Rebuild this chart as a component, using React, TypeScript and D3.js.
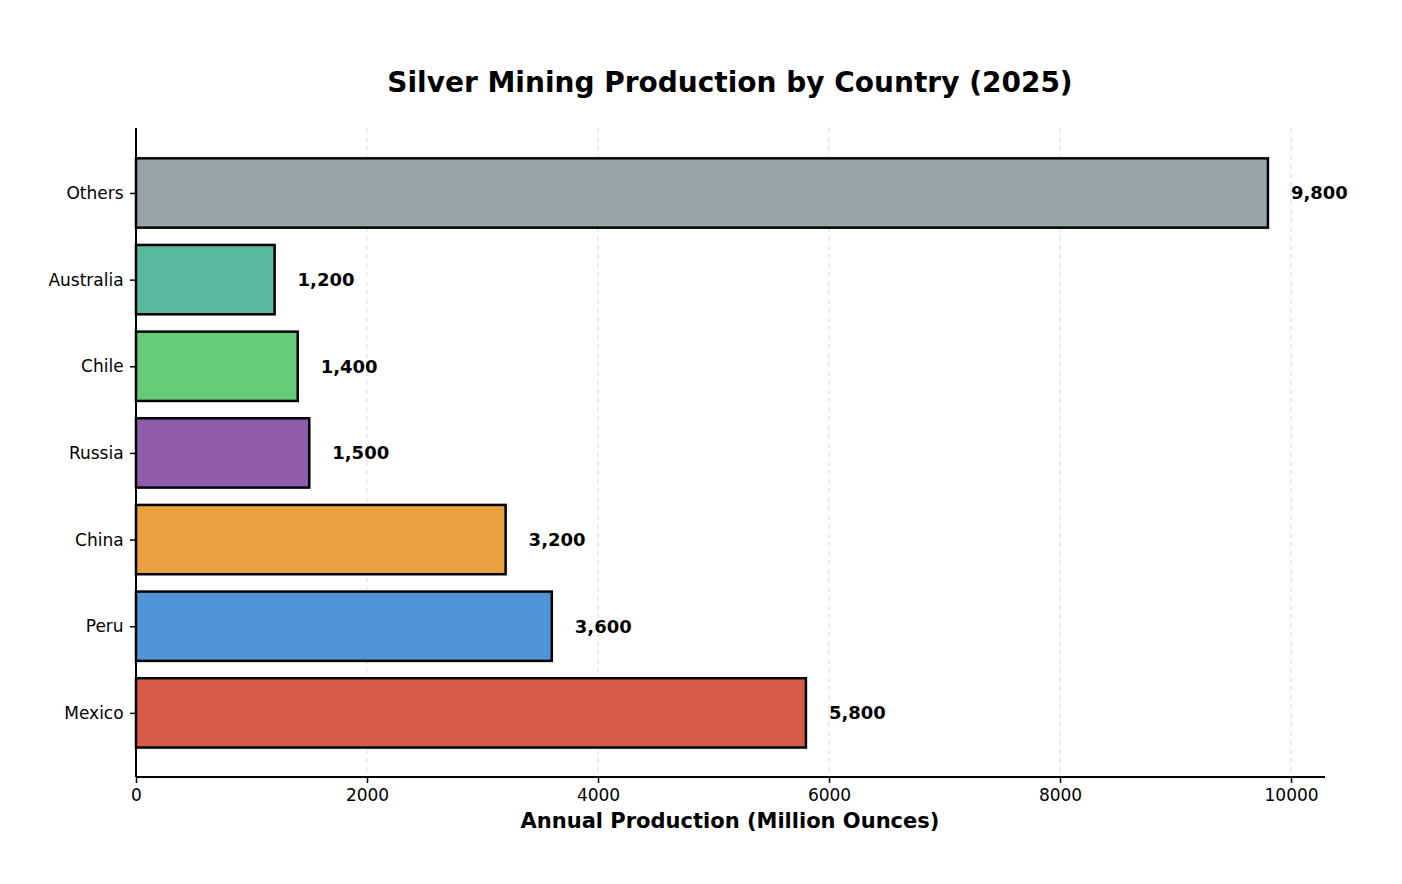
import { useEffect, useRef } from "react";
import * as d3 from "d3";

const countries = ["Mexico", "Peru", "China", "Russia", "Chile", "Australia", "Others"];
const production = [5800, 3600, 3200, 1500, 1400, 1200, 9800];
const colors = ["#d55a47", "#5096d6", "#e8a13e", "#8f5bab", "#65cb79", "#5ab89e", "#98a4a5"];
const xTicks = [0, 2000, 4000, 6000, 8000, 10000];

export default function App() {
  const svgRef = useRef<SVGSVGElement>(null);

  useEffect(() => {
    if (!svgRef.current) return;
    const svg = d3.select(svgRef.current);
    svg.selectAll("*").remove();
    const font = "DejaVu Sans, sans-serif";

    const left = 136, right = 1325, top = 128, bottom = 777;
    const x = d3.scaleLinear().domain([0, 10294]).range([left, right]);
    const y = d3.scaleLinear().domain([-0.74, 6.75]).range([bottom, top]);
    const step = y(0) - y(1);
    const bh = step * 0.8;

    // Grid
    svg.append("g")
      .selectAll("line")
      .data(xTicks.slice(1))
      .join("line")
      .attr("x1", (d) => x(d)).attr("x2", (d) => x(d))
      .attr("y1", top).attr("y2", bottom)
      .attr("stroke", "#dddddd").attr("stroke-dasharray", "5,4").attr("stroke-width", 1);

    // Bars
    svg.append("g")
      .selectAll("rect")
      .data(production)
      .join("rect")
      .attr("x", x(0))
      .attr("y", (_, i) => y(i) - bh / 2)
      .attr("width", (d) => x(d) - x(0))
      .attr("height", bh)
      .attr("fill", (_, i) => colors[i])
      .attr("stroke", "#000").attr("stroke-width", 2.5);

    // Value labels
    svg.append("g")
      .selectAll("text")
      .data(production)
      .join("text")
      .attr("x", (d) => x(d) + 23)
      .attr("y", (_, i) => y(i))
      .attr("dy", "0.35em")
      .attr("font-family", font).attr("font-size", 18).attr("font-weight", "bold")
      .text((d) => d3.format(",")(d));

    // Axes
    const xa = svg.append("g")
      .attr("transform", `translate(0,${bottom})`)
      .call(d3.axisBottom(x).tickValues(xTicks).tickFormat(d3.format("d")).tickSize(6));
    xa.selectAll("text").attr("font-family", font).attr("font-size", 17).attr("fill", "#000").attr("dy", "0.9em");
    xa.select(".domain").attr("stroke-width", 2).attr("d", `M${left},0H${right}`);
    xa.selectAll(".tick line").attr("stroke-width", 1.5);

    const ya = svg.append("g")
      .attr("transform", `translate(${left},0)`)
      .call(d3.axisLeft(y).tickValues(d3.range(countries.length)).tickFormat((d) => countries[d as number]).tickSize(6));
    ya.selectAll("text").attr("font-family", font).attr("font-size", 17).attr("fill", "#000").attr("dx", "-0.2em");
    ya.select(".domain").attr("stroke-width", 2).attr("d", `M0,${bottom}V${top}`);
    ya.selectAll(".tick line").attr("stroke-width", 1.5);

    svg.append("text")
      .attr("x", 730).attr("y", 828)
      .attr("text-anchor", "middle")
      .attr("font-family", font).attr("font-size", 21).attr("font-weight", "bold")
      .text("Annual Production (Million Ounces)");

    svg.append("text")
      .attr("x", 730).attr("y", 92)
      .attr("text-anchor", "middle")
      .attr("font-family", font).attr("font-size", 28).attr("font-weight", "bold")
      .text("Silver Mining Production by Country (2025)");
  }, []);

  return (
    <svg
      ref={svgRef}
      width={1402}
      height={884}
      style={{ position: "absolute", left: 0, top: 0, background: "#fff" }}
    />
  );
}
